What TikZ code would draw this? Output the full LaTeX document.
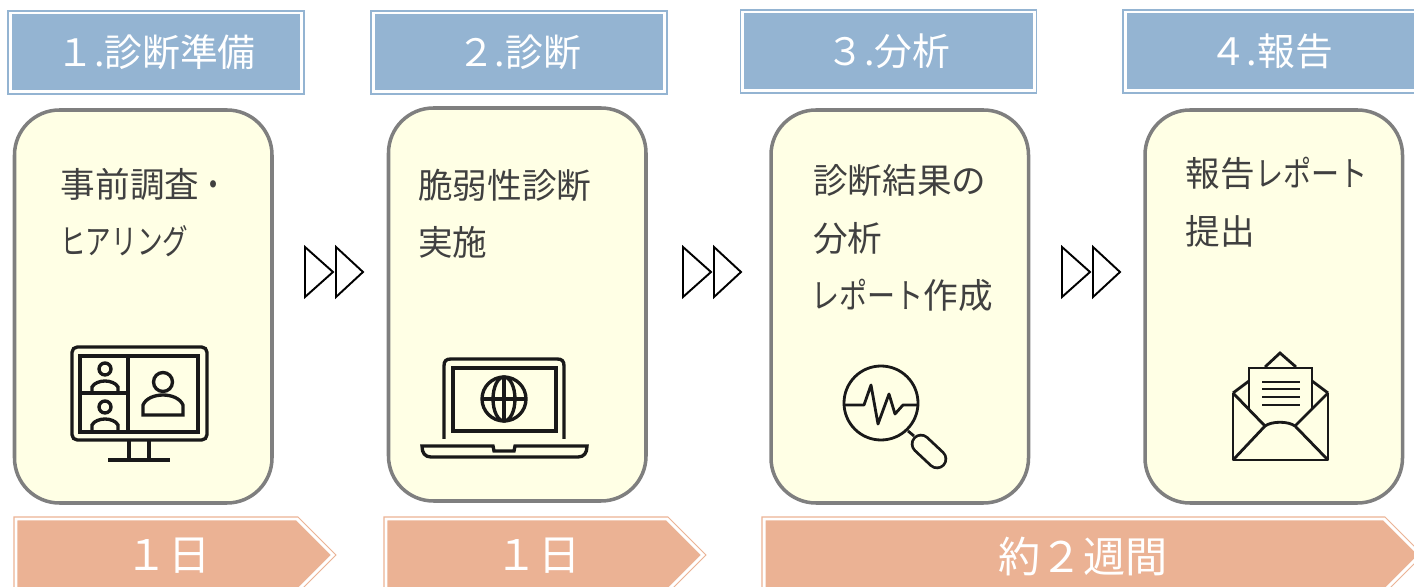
\documentclass[tikz,border=0pt]{standalone}
\usepackage{fontspec}
\setmainfont{Noto Sans CJK JP}
\newfontfamily\kanafont[FakeStretch=0.81]{Noto Sans CJK JP}
\newfontfamily\slimkana[FakeStretch=0.74]{Noto Sans CJK JP}
\definecolor{headblue}{HTML}{94B4D2}
\definecolor{spanorange}{HTML}{EBB294}
\definecolor{cardcream}{HTML}{FFFFE5}
\definecolor{cardgray}{HTML}{7F7F7F}
\definecolor{bodytext}{HTML}{404040}
\tikzset{
  headbox/.style={draw=headblue,fill=headblue,double=white,double distance=1.7pt,line width=.6pt,
    minimum width=5.84cm,minimum height=1.58cm,text=white,font=\fontsize{21.5}{21.5}\selectfont},
  spanarrow/.style={draw=spanorange,fill=spanorange,double=white,double distance=1.7pt,line width=.6pt,miter limit=10},
  spantext/.style={text=white,font=\fontsize{24}{24}\selectfont},
  card/.style={draw=cardgray,fill=cardcream,line width=2pt,rounded corners=.9cm},
  cardline/.style={anchor=west,inner sep=0pt,text=bodytext,font=\fontsize{19.7}{19.7}\selectfont},
  nextmark/.style={draw=black,line width=1.1pt,line join=miter},
  icon/.style={draw=black!90,line width=1.9pt},
  thinicon/.style={draw=black!90,line width=1.6pt},
}
\begin{document}
\begin{tikzpicture}[x=.02cm,y=-.02cm]
\useasboundingbox (0,0) rectangle (1414,587);
\clip (0,0) rectangle (1414,587);
% Phase headers
\node[headbox] (head1) at (156,52.5) {１.診断準備};
\node[headbox] (head2) at (519,52.5) {２.診断};
\node[headbox] (head3) at (888.5,51.5) {３.分析};
\node[headbox] (head4) at (1271,51.5) {４.報告};
% Cards
\draw[card] (14.5,110) rectangle (272,503);
\draw[card] (388.5,108) rectangle (646,501);
\draw[card] (771,110) rectangle (1028.5,503);
\draw[card] (1145,110) rectangle (1402.5,503);
% Card texts
\node[cardline] (text1a) at (60.5,184) {事前調査{\kanafont ・}};
\node[cardline] (text1b) at (60,241) {\slimkana ヒアリング};
\node[cardline] (text2a) at (418,185) {脆弱性診断};
\node[cardline] (text2b) at (418,242) {実施};
\node[cardline] (text3a) at (813,181) {診断結果の};
\node[cardline] (text3b) at (813,238) {分析};
\node[cardline] (text3c) at (811,295) {{\kanafont レポート}作成};
\node[cardline] (text4a) at (1185.5,173) {報告{\kanafont レポート}};
\node[cardline] (text4b) at (1185.5,231) {提出};
% Double marks between cards
\foreach \markx in {305,683,1062}{
  \draw[nextmark] (\markx,247) -- ++(28,25) -- ++(-28,25) -- cycle;
  \draw[nextmark] (\markx+31,247) -- ++(27,25) -- ++(-27,25) -- cycle;
}
% Monitor icon
\draw[icon,rounded corners=3pt] (72,347) rectangle (207,440);
\draw[icon] (80,356) rectangle (198,432);
\draw[icon] (128,356) -- (128,432);
\draw[icon] (80,393) -- (128,393);
\draw[icon] (163,382) circle (9.5);
\draw[icon] (143,415) -- (143,405) .. controls (146,398) and (155,395) .. (163,395) .. controls (171,395) and (180,398) .. (183,405) -- (183,415) -- cycle;
\foreach \persony in {0,38}{
  \draw[icon] (105,369+\persony) circle (6);
  \draw[icon] (92,392+\persony) -- (92,387+\persony) .. controls (94,383+\persony) and (100,381+\persony) .. (105,381+\persony) .. controls (110,381+\persony) and (116,383+\persony) .. (118,387+\persony) -- (118,392+\persony);
}
\draw[icon] (129,440) -- (129,460);
\draw[icon] (149,440) -- (149,460);
\draw[icon] (108,460) -- (170,460);
% Laptop icon
\draw[icon] (444,439) -- (444,366) .. controls (444,361) and (446,359) .. (451,359) -- (557,359) .. controls (562,359) and (564,361) .. (564,366) -- (564,439);
\draw[icon] (453,368) rectangle (556,431);
\draw[icon] (504,399) circle (22);
\draw[icon] (504,399) ellipse (11 and 22);
\draw[icon] (504,377) -- (504,421);
\draw[icon] (482,399) -- (526,399);
\draw[icon] (422,446) -- (493,446) -- (494,451) -- (514,451) -- (515,446) -- (587,446) .. controls (587,453) and (584,457) .. (578,457) -- (431,457) .. controls (425,457) and (422,453) .. (422,446) -- cycle;
% Magnifier icon
\draw[thinicon] (881,403) circle (37);
\draw[thinicon,line join=round] (844,405) -- (864,405) -- (871,385) -- (878,424) -- (889,394) -- (895,414) -- (903,405) -- (918,405);
\draw[thinicon] (908,431) -- (914,436);
\draw[thinicon,double=cardcream,line width=1.6pt,double distance=8.5pt,line cap=round] (921,444) -- (937,459);
% Envelope icon
\draw[thinicon,line join=round] (1233,393) -- (1233,460) -- (1328,460) -- (1328,393);
\draw[thinicon] (1233,393) -- (1249,381);
\draw[thinicon] (1312,381) -- (1328,393);
\draw[thinicon] (1265,367) -- (1280,353) -- (1296,367);
\draw[thinicon] (1249,410) -- (1249,368) -- (1312,368) -- (1312,410);
\draw[thinicon] (1233,393) -- (1265,426);
\draw[thinicon] (1328,393) -- (1295,426);
\draw[thinicon] (1233,460) -- (1265,426) .. controls (1272,421) and (1288,421) .. (1295,426) -- (1328,460);
\foreach \rowy in {382,389,397,405}{
  \draw[thinicon] (1262,\rowy) -- (1300,\rowy);
}
% Duration arrows
\draw[spanarrow] (16,519) -- (297,519) -- (333,555) -- (297,591) -- (16,591) -- cycle;
\draw[spanarrow] (386,519) -- (667,519) -- (703,555) -- (667,591) -- (386,591) -- cycle;
\draw[spanarrow] (764,519) -- (1384,519) -- (1420,555) -- (1384,591) -- (764,591) -- cycle;
\node[spantext] (span1) at (168,556) {１日};
\node[spantext] (span2) at (538,556) {１日};
\node[spantext] (span3) at (1083,556) {約２週間};
\end{tikzpicture}
\end{document}
